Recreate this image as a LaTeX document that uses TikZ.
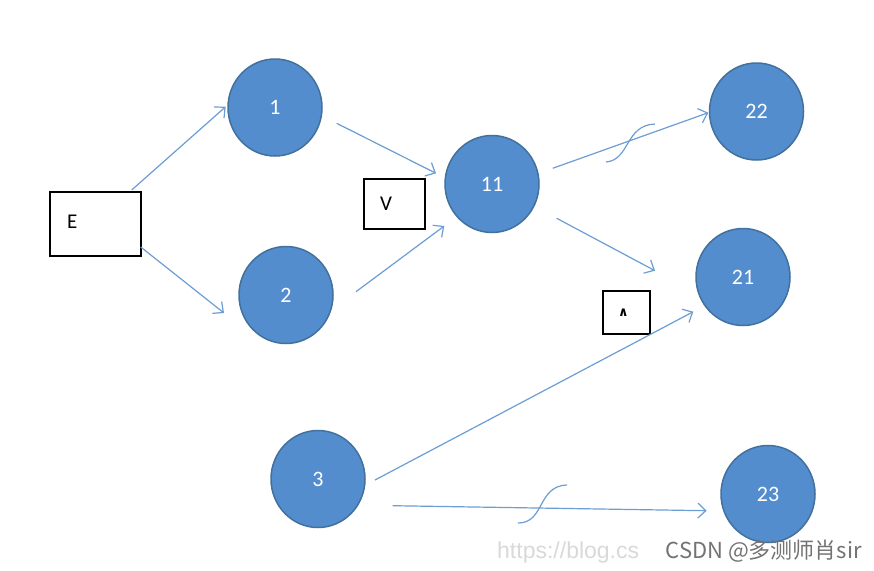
\documentclass[tikz,border=0pt]{standalone}
\usepackage{fontspec}
\setmainfont{Carlito}
\newfontfamily\cjkfont{Noto Sans CJK SC}
\newfontfamily\symfont{DejaVu Sans}
\newfontfamily\urlfont{Liberation Sans}
\usetikzlibrary{arrows.meta,calc,shapes.geometric}
\definecolor{nodefill}{RGB}{84,141,206}
\definecolor{nodeedge}{RGB}{65,113,156}
\definecolor{arrowcol}{RGB}{108,157,212}
\begin{document}
\begin{tikzpicture}[x=1pt,y=-1pt,
  circ/.style={ellipse, draw=nodeedge, line width=1.5pt, fill=nodefill,
    minimum width=94pt, minimum height=97pt, inner sep=0pt, text=white,
    font=\fontsize{22}{26}\selectfont},
  gate/.style={draw=black, line width=1.2pt, fill=white, align=left,
    inner ysep=0pt, font=\fontsize{21}{24}\selectfont},
  conn/.style={draw=arrowcol, line width=1.2pt,
    -{Straight Barb[length=8pt,width=15pt,line width=1.2pt]}},
  cross/.style={draw=arrowcol, line width=1.2pt}]
\fill[white] (0,0) rectangle (874,570);
\useasboundingbox (0,0) rectangle (874,570);

% gate boxes
\node[gate, text width=57pt, inner xsep=17pt, minimum height=64pt] (E) at (95.5,224) {\raisebox{5pt}{E}};
\node[gate, text width=29pt, inner xsep=16pt, minimum height=50pt] (V) at (394.5,204) {V};
\node[gate, text width=17pt, inner xsep=15pt, minimum height=43pt,
      font=\symfont\bfseries\fontsize{13}{15}\selectfont] (A) at (626.5,312.5) {∧};

% circles
\node[circ] (n1) at (275,107.5) {1};
\node[circ] (n2) at (286,295) {2};
\node[circ] (n11) at (492,184) {11};
\node[circ] (n22) at (756.5,111.5) {22};
\node[circ] (n21) at (743,277) {21};
\node[circ] (n3) at (318,479) {3};
\node[circ] (n23) at (768,494) {23};

% connectors
\draw[conn] ($(E)+(36.2,-34)$) -- ($(n1)+(-49.3,-0.8)$);
\draw[conn] ($(E)+(45.2,23)$) -- ($(n2)+(-62,18)$);
\draw[conn] ($(n1)+(61.7,15.8)$) -- ($(n11)+(-56,-10.7)$);
\draw[conn] ($(n2)+(70,-3.3)$) -- ($(n11)+(-47.7,42)$);
\draw[conn] ($(n11)+(60.7,-15.7)$) -- ($(n22)+(-48.2,1.2)$);
\draw[conn] ($(n11)+(64.7,34.3)$) -- ($(n21)+(-88,-6.3)$);
\draw[conn] ($(n3)+(57,1)$) -- ($(n21)+(-49.7,34.7)$);
\draw[conn] ($(n3)+(74.7,26.7)$) -- ($(n23)+(-61.3,16.7)$);

% crossing marks
\draw[cross] (606,162) .. controls (630,160) and (625,125) .. (655,124);
\draw[cross] (518,523) .. controls (545,523) and (537,486) .. (567,485);

% watermark
\node[anchor=base west, inner sep=0pt, text=black!15,
      font=\urlfont\fontsize{23}{27}\selectfont] (url) at (497,558) {https://blog.cs};
\node[anchor=base east, inner sep=0pt, text=black!55,
      font=\cjkfont\fontsize{22}{26}\selectfont] (wm) at (862,558) {CSDN @多测师肖sir};
\end{tikzpicture}
\end{document}
